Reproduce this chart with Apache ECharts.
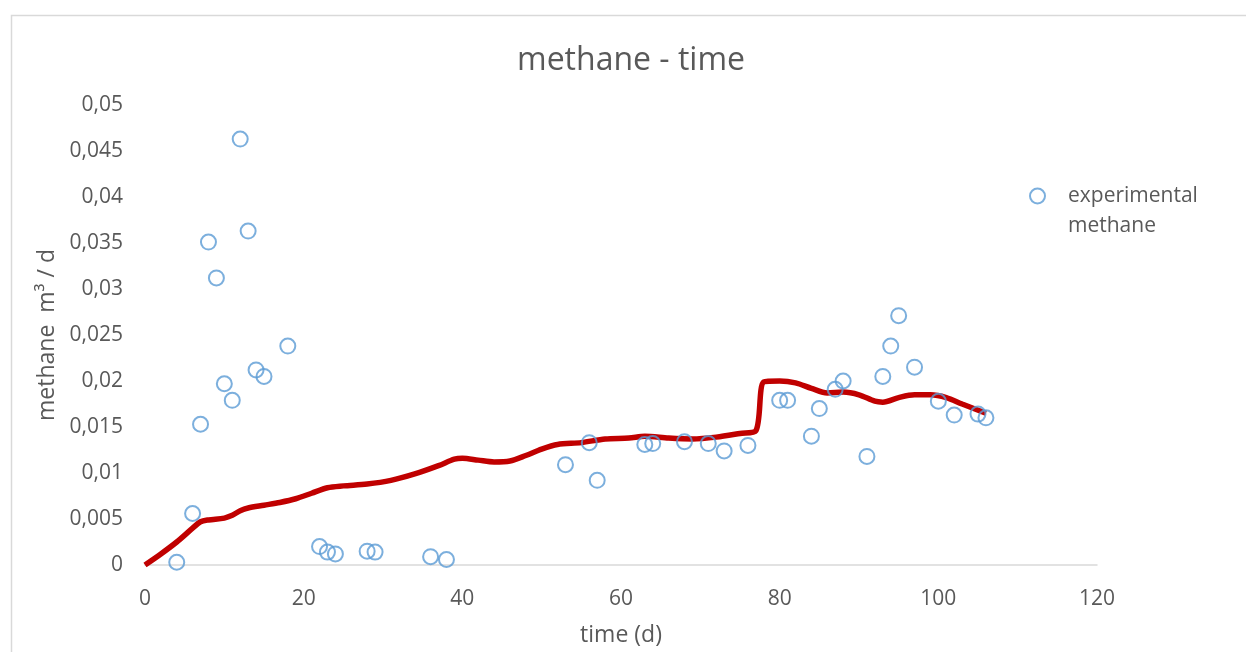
<!DOCTYPE html>
<html>
<head>
<meta charset="utf-8">
<script src="https://cdn.jsdelivr.net/npm/echarts@6/dist/echarts.min.js"></script>
<style>
html,body{margin:0;padding:0;background:#fff;}
#chart{width:1246px;height:652px;}
</style>
</head>
<body>
<div id="chart"></div>
<script>
// experimental points: day, methane m3/d
var expDays = [4, 6, 7, 8, 9, 10, 11, 12, 13, 14, 15, 18, 22, 23, 24, 28, 29, 36, 38,
  53, 56, 57, 63, 64, 68, 71, 73, 76, 80, 81, 84, 85, 87, 88, 91, 93, 94, 95, 97, 100, 102, 105, 106];
var expMethane = [0.0003, 0.0056, 0.0153, 0.0351, 0.0312, 0.0197, 0.0179, 0.0463, 0.0363, 0.0212, 0.0205, 0.0238,
  0.0020, 0.0014, 0.0012, 0.0015, 0.0014, 0.0009, 0.0006,
  0.0109, 0.0133, 0.0092, 0.0131, 0.0132, 0.0134, 0.0132, 0.0124, 0.0130, 0.0179, 0.0179,
  0.0140, 0.0170, 0.0191, 0.0200, 0.0118, 0.0205, 0.0238, 0.0271, 0.0215, 0.0178, 0.0163, 0.0164, 0.0160];

// model curve
var modelDays = [0, 2, 4, 6, 7, 8, 10, 11, 12, 13, 15, 17, 19, 21, 23, 25, 28, 31, 34, 37, 39, 40, 42, 44, 46, 48,
  50, 52, 55, 58, 61, 63, 66, 69, 72, 75, 77, 78, 80, 82, 84, 86, 88, 90, 92, 93, 95, 97, 99, 101, 103, 106];
var modelMethane = [0, 0.0012, 0.0025, 0.0040, 0.0047, 0.0049, 0.0051, 0.0054, 0.0059, 0.0062, 0.0065, 0.0068,
  0.0072, 0.0078, 0.0084, 0.0086, 0.0088, 0.0092, 0.0099, 0.0108, 0.0115, 0.0116, 0.0114, 0.0112, 0.0113, 0.0119,
  0.0126, 0.0131, 0.0133, 0.0137, 0.0138, 0.0140, 0.0138, 0.0137, 0.0139, 0.0143, 0.0146, 0.0199, 0.0200, 0.0198,
  0.0192, 0.0187, 0.0188, 0.0185, 0.0178, 0.0177, 0.0182, 0.0185, 0.0185, 0.0182, 0.0175, 0.0165];

var expData = [];
for (var i = 0; i < expDays.length; i++) expData.push([expDays[i], expMethane[i]]);
var modelData = [];
for (var i = 0; i < modelDays.length; i++) modelData.push([modelDays[i], modelMethane[i]]);

var font = '"Open Sans", "Noto Sans", sans-serif';
var txt = '#595959';

var myChart = echarts.init(document.getElementById('chart'));
var option = {
  animation: false,
  backgroundColor: '#fff',
  graphic: [{
    type: 'rect',
    shape: {x: 11.5, y: 15.5, width: 1300, height: 700},
    style: {fill: 'none', stroke: '#D9D9D9', lineWidth: 1.5},
    silent: true
  }],
  title: {
    text: 'methane - time',
    left: 512,
    top: 40,
    textStyle: {fontFamily: font, fontSize: 32, fontWeight: 'normal', color: txt}
  },
  legend: {
    left: 1024,
    top: 146,
    orient: 'vertical',
    itemWidth: 51,
    itemHeight: 15,
    data: [{name: 'experimental\nmethane', icon: 'circle'}],
    // blank first line so the icon sits next to the first text line
    formatter: function (n) { return '\u00a0\n' + n; },
    textStyle: {fontFamily: font, fontSize: 21, color: txt, lineHeight: 30}
  },
  grid: {left: 145, right: 149, top: 105, bottom: 87},
  xAxis: {
    type: 'value',
    min: 0, max: 120, interval: 20,
    name: 'time (d)',
    nameLocation: 'middle',
    nameGap: 59,
    nameTextStyle: {fontFamily: font, fontSize: 23, color: txt},
    axisLine: {show: true, lineStyle: {color: '#D9D9D9', width: 1.5}},
    axisTick: {show: false},
    splitLine: {show: false},
    axisLabel: {fontFamily: font, fontSize: 21, color: txt, margin: 24}
  },
  yAxis: {
    type: 'value',
    min: 0, max: 0.05, interval: 0.005,
    name: 'methane  m³ / d',
    nameLocation: 'middle',
    nameGap: 86,
    nameTextStyle: {fontFamily: font, fontSize: 23, color: txt},
    axisLine: {show: false},
    axisTick: {show: false},
    splitLine: {show: false},
    axisLabel: {
      fontFamily: font, fontSize: 21, color: txt, margin: 22,
      formatter: function (v) { return String(+v.toFixed(3)).replace('.', ','); }
    }
  },
  series: [{
    name: 'experimental\nmethane',
    type: 'scatter',
    data: expData,
    symbol: 'circle',
    symbolSize: 15,
    itemStyle: {color: 'rgba(255,255,255,0)', borderColor: '#5B9BD5', borderWidth: 2},
    z: 3
  }, {
    name: 'model',
    type: 'line',
    data: modelData,
    smooth: 0.3,
    showSymbol: false,
    lineStyle: {color: '#C00000', width: 5.5},
    itemStyle: {color: '#C00000'},
    z: 2
  }]
};
myChart.setOption(option);
</script>
</body>
</html>
